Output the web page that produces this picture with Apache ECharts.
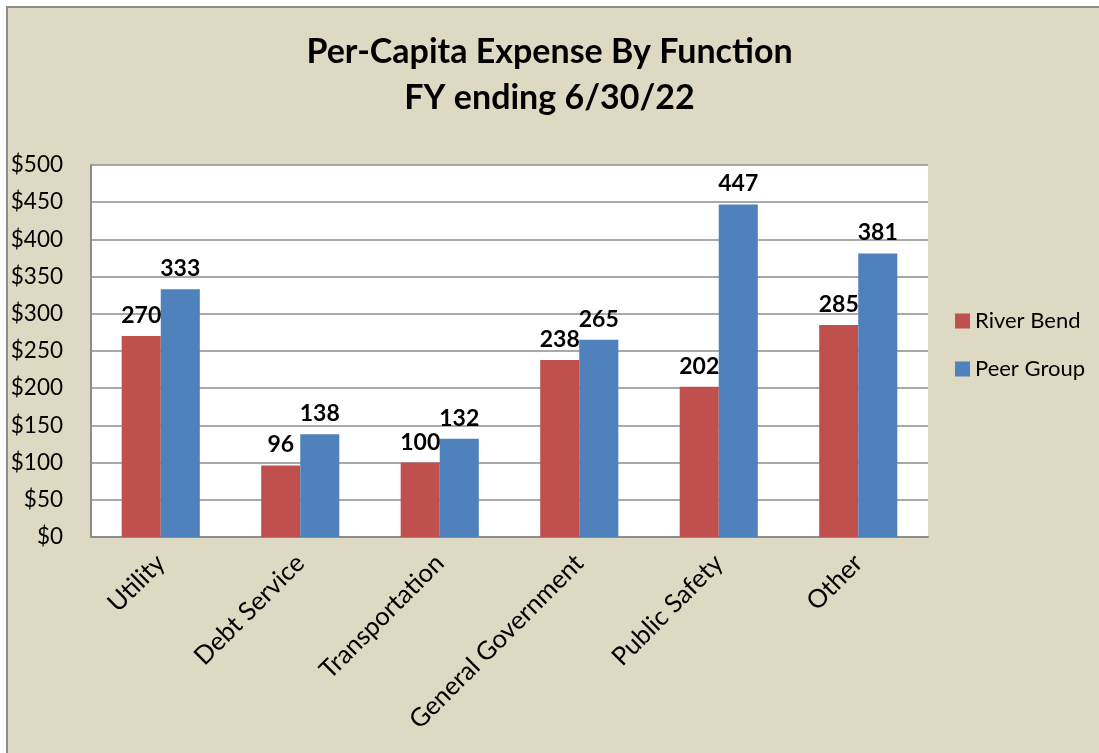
<!DOCTYPE html>
<html>
<head>
<meta charset="utf-8">
<script src="https://cdn.jsdelivr.net/npm/echarts@6/dist/echarts.min.js"></script>
<style>
html,body{margin:0;padding:0;background:#ffffff;}
#chart{width:1099px;height:753px;}
</style>
</head>
<body>
<div id="chart"></div>
<script>
const categories = ['Utility', 'Debt Service', 'Transportation', 'General Government', 'Public Safety', 'Other'];
const riverBend = [270, 96, 100, 238, 202, 285];
const peerGroup = [333, 138, 132, 265, 447, 381];
const seriesNames = ['River Bend', 'Peer Group'];
const titleLines = ['Per-Capita Expense By Function', 'FY ending 6/30/22'];

const FONT = 'Lato, "Open Sans", sans-serif';
const chart = echarts.init(document.getElementById('chart'));
const labelCfg = {
  show: true, position: 'top', distance: 9,
  fontFamily: FONT, fontWeight: 'bold', fontSize: 23, color: '#000'
};
chart.setOption({
  backgroundColor: '#ffffff',
  animation: false,
  graphic: [{
    type: 'rect', z: -10, silent: true,
    shape: {x: 7, y: 7, width: 1200, height: 900},
    style: {fill: '#DDD9C3', stroke: '#8c8c8c', lineWidth: 2}
  }],
  title: {
    text: titleLines.join('\n'),
    left: 'center', top: 24,
    textStyle: {fontFamily: FONT, fontWeight: 'bold', fontSize: 34, color: '#000', lineHeight: 46}
  },
  legend: {
    orient: 'vertical', left: 950, top: 305, itemGap: 26,
    itemWidth: 15, itemHeight: 15, icon: 'rect',
    textStyle: {fontFamily: FONT, fontSize: 22, color: '#000'},
    data: seriesNames
  },
  grid: {left: 91, right: 171, top: 165, bottom: 216, show: true, backgroundColor: '#ffffff', borderWidth: 0},
  xAxis: {
    type: 'category', data: categories,
    axisLine: {show: true, lineStyle: {color: '#8c8c8c', width: 2}},
    axisTick: {show: false},
    axisLabel: {rotate: 45, margin: 22, fontFamily: FONT, fontSize: 25.5, color: '#000', interval: 0}
  },
  yAxis: {
    type: 'value', min: 0, max: 500, interval: 50,
    axisLine: {show: true, lineStyle: {color: '#8c8c8c', width: 2}},
    axisTick: {show: false},
    splitLine: {show: true, lineStyle: {color: '#8c8c8c', width: 1.5}},
    axisLabel: {margin: 28, fontFamily: FONT, fontSize: 22.5, color: '#000', formatter: v => '$' + v}
  },
  series: [
    {name: seriesNames[0], type: 'bar', data: riverBend, itemStyle: {color: '#C0504D'},
     barGap: '0%', barCategoryGap: '44%', label: labelCfg},
    {name: seriesNames[1], type: 'bar', data: peerGroup, itemStyle: {color: '#4F81BD'},
     barGap: '0%', barCategoryGap: '44%', label: labelCfg}
  ]
});
</script>
</body>
</html>
